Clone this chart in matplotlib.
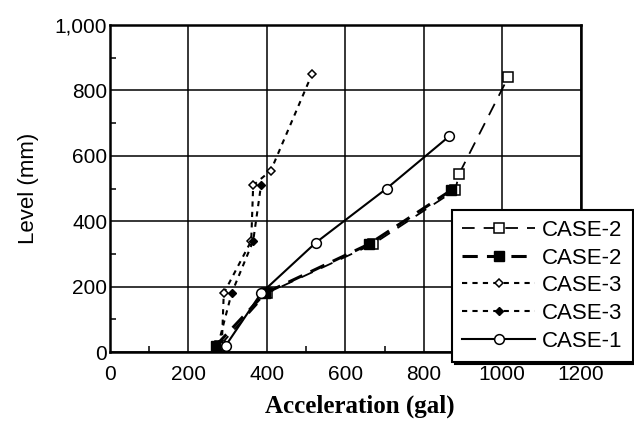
import matplotlib
matplotlib.use("Agg")
import matplotlib.pyplot as plt
from matplotlib.ticker import MultipleLocator, FuncFormatter

# Data (Acceleration in gal, Level in mm)
case2_open_x = [280, 400, 670, 880, 890, 1015]
case2_open_y = [20, 180, 330, 495, 545, 840]
case2_fill_x = [270, 395, 660, 870]
case2_fill_y = [20, 180, 330, 495]
case3_open_x = [285, 290, 360, 365, 410, 515]
case3_open_y = [20, 180, 340, 510, 555, 850]
case3_fill_x = [275, 310, 365, 385]
case3_fill_y = [20, 180, 340, 510]
case1_x = [295, 385, 525, 705, 865]
case1_y = [20, 180, 335, 500, 660]

x_ticks = [0, 200, 400, 600, 800, 1000, 1200]
y_ticks = [0, 200, 400, 600, 800, 1000]

plt.rcParams['font.family'] = ['Liberation Sans', 'DejaVu Sans']

fig = plt.figure(figsize=(6.34, 4.30), dpi=100)
ax = fig.add_axes([0.1735, 0.181, 0.7425, 0.761])

ax.plot(case2_open_x, case2_open_y, color='black', lw=1.3, ls=(0, (7, 5)),
        marker='s', ms=6.5, mfc='white', mec='black', mew=1.1, label='CASE-2')
ax.plot(case2_fill_x, case2_fill_y, color='black', lw=2.2, ls=(0, (5, 3)),
        marker='s', ms=6.5, mfc='black', mec='black', label='CASE-2')
ax.plot(case3_open_x, case3_open_y, color='black', lw=1.5, ls=(0, (2.5, 2.5)),
        marker='D', ms=4.5, mfc='white', mec='black', mew=1.1, label='CASE-3')
ax.plot(case3_fill_x, case3_fill_y, color='black', lw=1.5, ls=(0, (2.5, 2.5)),
        marker='D', ms=4.5, mfc='black', mec='black', label='CASE-3')
ax.plot(case1_x, case1_y, color='black', lw=1.5, ls='-',
        marker='o', ms=7, mfc='white', mec='black', mew=1.1, label='CASE-1')

ax.set_xlim(0, 1200)
ax.set_ylim(0, 1000)
ax.set_xticks(x_ticks)
ax.set_yticks(y_ticks)
ax.xaxis.set_minor_locator(MultipleLocator(100))
ax.yaxis.set_minor_locator(MultipleLocator(100))
ax.yaxis.set_major_formatter(FuncFormatter(lambda v, p: f"{int(v):,}"))
ax.grid(True, which='major', color='black', lw=1.1)
ax.tick_params(which='major', length=0, labelsize=15)
ax.tick_params(axis='x', which='major', pad=9)
ax.tick_params(axis='y', which='major', pad=2)
ax.tick_params(which='minor', direction='in', length=4, width=1.1)
for s in ax.spines.values():
    s.set_linewidth(1.8)

ax.set_xlabel('Acceleration (gal)', fontsize=18, fontweight='bold',
              family=['Liberation Serif', 'DejaVu Serif'], labelpad=8)
ax.xaxis.label.set_x(0.53)
ax.set_ylabel('Level (mm)', fontsize=16, labelpad=11)

leg = ax.legend(loc='upper left', bbox_to_anchor=(0.713, 0.512),
                bbox_transform=fig.transFigure, fontsize=16, frameon=True,
                fancybox=False, edgecolor='black', handlelength=3.3,
                labelspacing=0.3, borderpad=0.45, handletextpad=0.3,
                borderaxespad=0.0,
                shadow={'color': 'black', 'alpha': 1.0})
leg.get_frame().set_linewidth(1.5)
leg.set_zorder(10)

fig.savefig('out.png', dpi=100)
